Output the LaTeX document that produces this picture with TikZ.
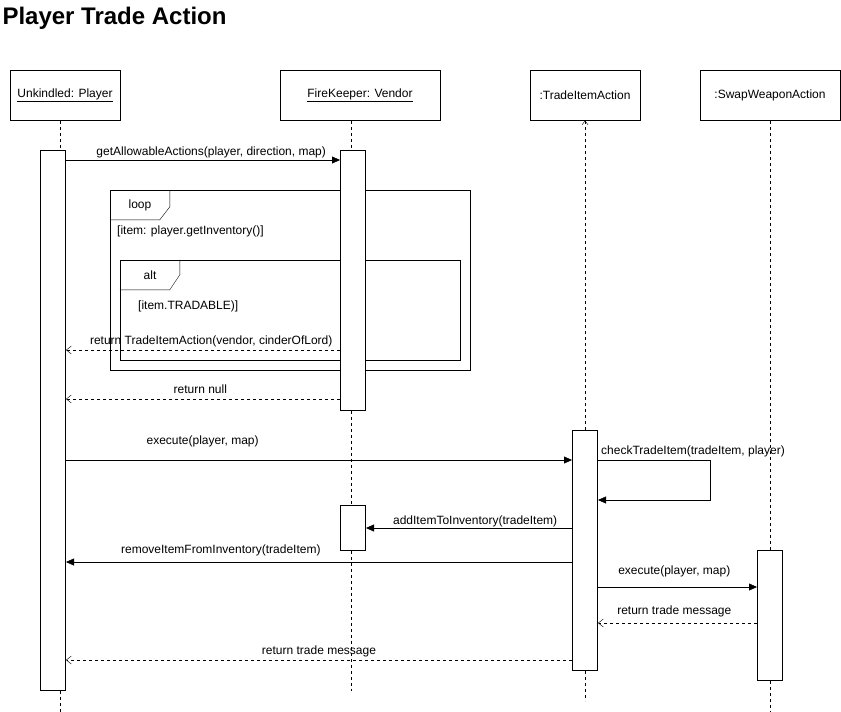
\documentclass[tikz,border=0pt]{standalone}
\usepackage{fontspec}
\setmainfont{Liberation Sans}
\usetikzlibrary{arrows.meta}
\pgfdeclarelayer{background}
\pgfsetlayers{background,main}
\begin{document}
\begin{tikzpicture}[x=1pt,y=-1pt,line width=1pt,font=\fontsize{12}{14}\selectfont,
  head/.style={rectangle,draw=black,fill=white,minimum height=50,inner sep=0pt},
  act/.style={rectangle,draw=black,fill=white,minimum width=25,inner sep=0pt},
  frame/.style={rectangle,draw=black,inner sep=0pt},
  lifeline/.style={dash pattern=on 3pt off 3pt},
  msg/.style={-{Triangle[length=8pt,width=7pt]}},
  ret/.style={dash pattern=on 3pt off 3pt,-{Straight Barb[length=5pt,width=8pt]}},
  lbl/.style={inner sep=2pt,text height=8.5pt,text depth=2.5pt}]
\useasboundingbox (0,0) rectangle (841,712);
\node[anchor=base west,inner sep=0pt,font=\fontsize{24}{28}\selectfont\bfseries] (title) at (2,24) {Player Trade Action};
% heads
\node[head,minimum width=110] (P) at (65,95) {\underline{Unkindled: Player}};
\node[head,minimum width=160] (V) at (360,95) {\underline{FireKeeper: Vendor}};
\node[head,minimum width=110] (T) at (585,95) {:TradeItemAction};
\node[head,minimum width=140] (S) at (770,95) {:SwapWeaponAction};
% activations
\node[act,minimum height=540] (PA) at (53,420) {};
\node[act,minimum height=260] (VA) at (353,280) {};
\node[act,minimum height=45] (VB) at (353,527.5) {};
\node[act,minimum height=240] (TA) at (585,550) {};
\node[act,minimum height=130] (SA) at (770,615) {};
\begin{pgfonlayer}{background}
% lifelines
\draw[lifeline] (P.south -| 60,0) -- (PA.north -| 60,0);
\draw[lifeline] (PA.south -| 60,0) -- ++(0,22);
\draw[lifeline] (V.south -| 351,0) -- (VA.north -| 351,0);
\draw[lifeline] (VA.south -| 351,0) -- (VB.north -| 351,0);
\draw[lifeline] (VB.south -| 351,0) -- ++(0,140);
\draw[lifeline,-{Straight Barb[length=4pt,width=6pt]}] (TA.north) -- (T.south);
\draw[lifeline] (TA.south) -- ++(0,30);
\draw[lifeline] (S.south) -- (SA.north);
\draw[lifeline] (SA.south) -- ++(0,32);
% frames
\node[frame,minimum width=360,minimum height=180] (loop) at (290,280) {};
\draw (loop.north west) ++(0,30) -- ++(50,0) -- ++(10,-13) -- ++(0,-17);
\node (looptag) at (140,205) {loop};
\node[anchor=west,inner sep=0pt] (loopguard) at (117,231) {[item: player.getInventory()]};
\node[frame,minimum width=340,minimum height=100] (alt) at (290,310) {};
\draw (alt.north west) ++(0,30) -- ++(50,0) -- ++(10,-15) -- ++(0,-15);
\node (alttag) at (150,275) {alt};
\node[anchor=west,inner sep=0pt] (altguard) at (138,306) {[item.TRADABLE)]};
\end{pgfonlayer}
% messages
\draw[msg] (PA.east |- 0,160) to node[lbl,above,pos=0.53]{getAllowableActions(player, direction, map)} (VA.west |- 0,160);
\draw[ret] (VA.west |- 0,350) to node[lbl,above,pos=0.47,yshift=1pt]{return TradeItemAction(vendor, cinderOfLord)} (PA.east |- 0,350);
\draw[ret] (VA.west |- 0,399) to node[lbl,above,pos=0.51,yshift=1pt]{return null} (PA.east |- 0,399);
\draw[msg] (PA.east |- 0,460) to node[lbl,above,pos=0.27,yshift=10.5pt]{execute(player, map)} (TA.west |- 0,460);
\draw[msg] (TA.east |- 0,460) node[lbl,anchor=south west,xshift=1pt,yshift=1pt]{checkTradeItem(tradeItem, player)} -- ++(112,0) -- ++(0,40) -- (TA.east |- 0,500);
\draw[msg] (TA.west |- 0,528) to node[lbl,above,pos=0.47,yshift=-1pt]{addItemToInventory(tradeItem)} (VB.east |- 0,528);
\draw[msg] (TA.west |- 0,562) to node[lbl,above,pos=0.694,yshift=3.5pt]{removeItemFromInventory(tradeItem)} (PA.east |- 0,562);
\draw[msg] (TA.east |- 0,587) to node[lbl,above,pos=0.48,yshift=8pt]{execute(player, map)} (SA.west |- 0,587);
\draw[ret] (SA.west |- 0,623) to node[lbl,above,pos=0.52,yshift=3.5pt]{return trade message} (TA.east |- 0,623);
\draw[ret] (TA.west |- 0,660) to node[lbl,above,pos=0.5,yshift=1pt]{return trade message} (PA.east |- 0,660);
\end{tikzpicture}
\end{document}
